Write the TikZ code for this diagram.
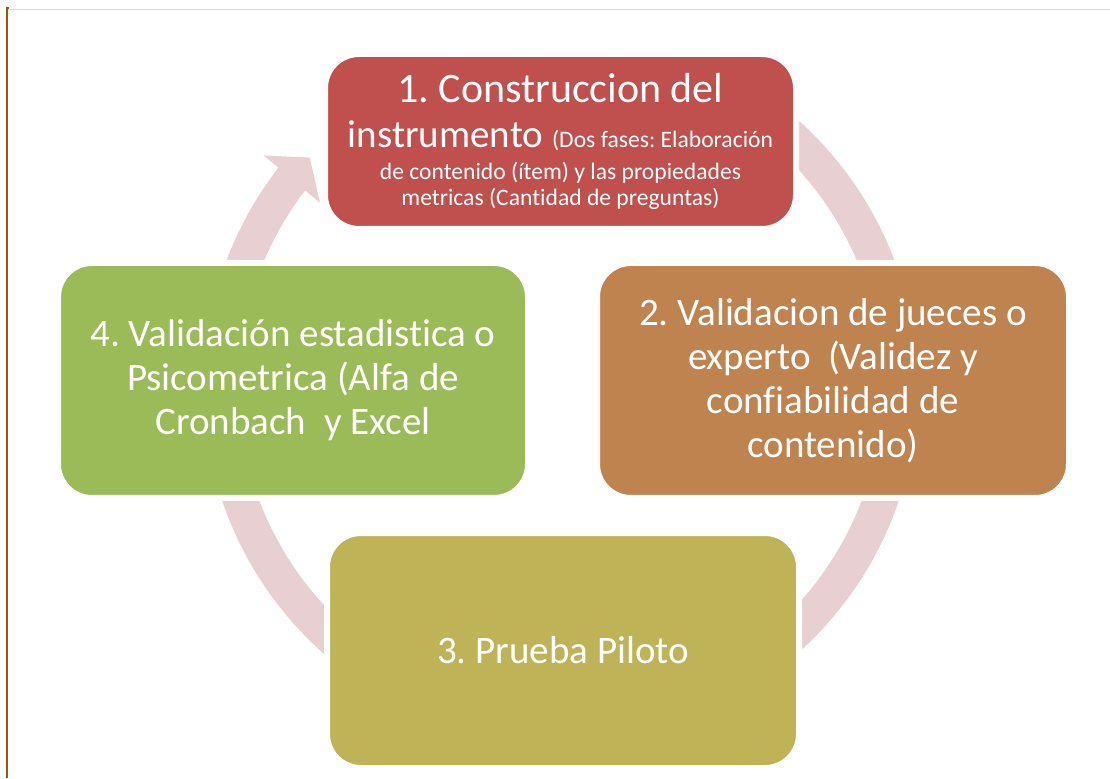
\documentclass[tikz,border=0pt]{standalone}
\usepackage{fontspec}
\setmainfont{Carlito}[Ligatures={NoCommon}]
\usepackage{tikz}
\usetikzlibrary{arrows.meta, bending, calc}
\usepackage{xcolor}

\definecolor{ringpink}{RGB}{232,208,210}
\definecolor{boxred}{RGB}{192,80,77}
\definecolor{boxtan}{RGB}{191,131,80}
\definecolor{boxgreen}{RGB}{155,187,89}
\definecolor{boxolive}{RGB}{191,179,87}
\definecolor{edgebrown}{RGB}{160,82,15}
\definecolor{edgebeige}{RGB}{232,218,205}
\newcommand{\notetext}{\fontsize{11.8}{13}\selectfont}
\newcommand{\leadtext}{\fontsize{21}{22}\selectfont}
\frenchspacing

\begin{document}
\begin{tikzpicture}[x=0.5pt, y=0.5pt,
    box/.style={draw=white, line width=3pt, rounded corners=17pt, text=white,
      align=center, inner sep=0pt, minimum width=236pt, minimum height=117.5pt,
      font=\fontsize{19.5}{22}\selectfont},
    cyclearrow/.style={draw=ringpink, line width=17.5pt,
      -{Triangle[width=36pt, length=14pt, flex]}}]
  \useasboundingbox (0,0) rectangle (1110,778);

  % page edges
  \draw[edgebeige, line width=0.5pt] (8,768) -- (1110,768);
  \draw[edgebrown, line width=1pt] (7,0) -- (7,770) -- (9,770);

  % cycle
  \coordinate (c) at (560.5,391.5);
  \coordinate (s41) at ($(c)+(180:339.5)$);
  \coordinate (s12) at ($(c)+(65:339.5)$);
  \coordinate (s23) at ($(c)+(0:339.5)$);
  \coordinate (s34) at ($(c)+(-90:339.5)$);

  \draw[cyclearrow] (s41) arc[start angle=180, end angle=137.6, radius=339.5];
  \draw[cyclearrow] (s12) arc[start angle=65, end angle=0, radius=339.5];
  \draw[cyclearrow] (s23) arc[start angle=0, end angle=-90, radius=339.5];
  \draw[cyclearrow] (s34) arc[start angle=-90, end angle=-180, radius=339.5];

  % steps
  \node[box, fill=boxred, minimum width=235.5pt, minimum height=87.5pt] (b1) at (560.5,636.5)
    {{\leadtext 1. Construccion del}\\[0.5pt]
     instrumento {\notetext (Dos fases: Elaboración}\\[-6.2pt]
     {\notetext de contenido (ítem) y las propiedades}\\[-9.1pt]
     {\notetext metricas (Cantidad de preguntas)}};
  \node[box, fill=boxtan] (b2) at (833,397.5)
    {2. Validacion de jueces o\\
     experto\ \ (Validez y\\
     confiabilidad de\\
     contenido)};
  \node[box, fill=boxolive] (b3) at (563,127.5) {3. Prueba Piloto};
  \node[box, fill=boxgreen, minimum width=235pt] (b4) at (293,397.5)
    {4. Validación estadistica o\\
     Psicometrica (Alfa de\\
     Cronbach\ \ y Excel};
\end{tikzpicture}
\end{document}
